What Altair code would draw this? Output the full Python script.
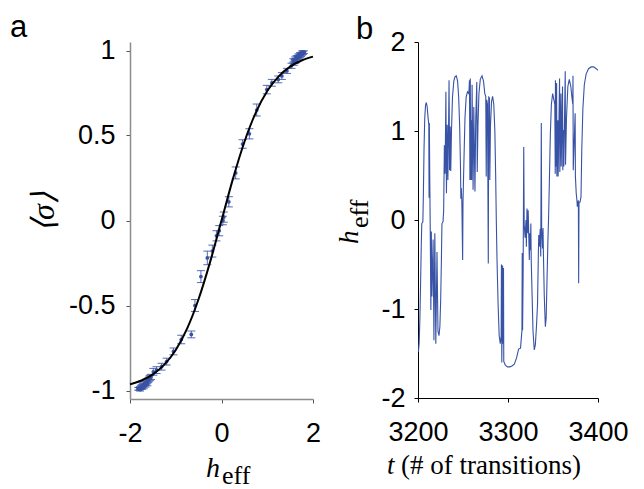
import altair as alt
import pandas as pd

# ---------------- panel a : <sigma> vs h_eff ----------------
pt_h = [0.31, 0.16, 0.05, 0.03, -0.05, -0.11, -0.20, -0.31, -0.45, -0.58, -0.66, -0.88,
        -1.05, -1.20, -1.31, -1.42, -1.49, 0.46, 0.61, 0.77, 0.99, 1.10, 1.24, 1.32, 1.43, 1.53,
        1.58, 1.60, 1.62, 1.64, 1.66, 1.68, 1.70, 1.72, 1.74, 1.76, 1.78, 1.80, 1.64, 1.68, 1.72, 1.76, 1.57, 1.61,
        -1.82, -1.80, -1.78, -1.76, -1.74, -1.72, -1.70, -1.68, -1.66, -1.64, -1.62, -1.60, -1.58, -1.56, -1.54,
        -1.78, -1.74, -1.70, -1.66, -1.62]
pt_s = [0.28, 0.11, 0.02, 0.00, -0.06, -0.09, -0.18, -0.22, -0.33, -0.50, -0.67, -0.70,
        -0.77, -0.83, -0.86, -0.88, -0.89, 0.45, 0.51, 0.65, 0.77, 0.81, 0.83, 0.85, 0.88, 0.91,
        0.925, 0.935, 0.94, 0.945, 0.955, 0.96, 0.965, 0.97, 0.975, 0.98, 0.985, 0.99, 0.96, 0.97, 0.98, 0.99, 0.94, 0.95,
        -0.99, -0.99, -0.985, -0.98, -0.975, -0.97, -0.965, -0.96, -0.955, -0.95, -0.945, -0.94, -0.93, -0.925, -0.92,
        -0.995, -0.985, -0.98, -0.97, -0.96]
pt_e = [0.035, 0.03, 0.03, 0.025, 0.03, 0.03, 0.035, 0.04, 0.035, 0.035, 0.02, 0.025,
        0.02, 0.02, 0.02, 0.02, 0.02, 0.025, 0.03, 0.035, 0.025, 0.02, 0.02, 0.02, 0.015, 0.015,
        0.012, 0.012, 0.012, 0.01, 0.01, 0.01, 0.01, 0.01, 0.01, 0.008, 0.008, 0.008, 0.01, 0.01, 0.008, 0.008, 0.012, 0.012,
        0.008, 0.008, 0.008, 0.01, 0.01, 0.01, 0.01, 0.012, 0.012, 0.012, 0.012, 0.012, 0.015, 0.015, 0.015,
        0.008, 0.008, 0.01, 0.01, 0.012]

curve_h = [-2.0, -1.75, -1.5, -1.25, -1.0, -0.75, -0.5, -0.25, 0.0, 0.25, 0.5, 0.75, 1.0, 1.25, 1.5, 1.75, 2.0]
curve_s = [-0.964, -0.941, -0.905, -0.848, -0.762, -0.635, -0.462, -0.245, 0.0, 0.245, 0.462, 0.635, 0.762, 0.848, 0.905, 0.941, 0.964]

# ---------------- panel b : h_eff time series ----------------
ts_t = [3200.5, 3201.3, 3202.0, 3202.8, 3203.6, 3204.2, 3205.4, 3206.0, 3206.7, 3207.5, 3208.4, 3209.3, 3210.2, 3211.2,
        3212.0, 3212.3, 3212.6, 3213.0, 3213.6, 3214.3, 3214.8, 3215.5, 3216.8, 3217.7, 3218.7, 3219.8, 3221.1, 3222.2,
        3223.3, 3224.3, 3225.2, 3226.0, 3226.6, 3227.8, 3228.5, 3229.3, 3230.1, 3231.0, 3231.6, 3232.5, 3233.2, 3234.0,
        3234.5, 3235.1, 3235.8, 3236.4, 3237.2, 3238.3, 3239.8, 3241.2, 3242.6, 3244.0, 3245.2, 3246.3, 3247.2, 3247.6,
        3248.1, 3248.7, 3249.6, 3250.0, 3251.0, 3252.2, 3253.5, 3255.0, 3256.5, 3257.2, 3257.7, 3258.1, 3258.6, 3259.1,
        3259.6, 3260.1, 3261.2, 3262.0, 3263.3, 3264.1, 3265.3, 3265.8, 3266.6, 3267.7, 3269.2, 3271.1, 3272.8, 3274.2,
        3275.3, 3275.8, 3276.4, 3277.2, 3278.1, 3278.6, 3279.4, 3279.8, 3280.5, 3281.7, 3282.9, 3284.2, 3285.4, 3286.3,
        3287.0, 3287.8, 3289.0, 3290.2, 3291.4, 3292.4, 3292.7, 3293.1, 3293.6, 3294.0, 3294.3, 3295.0, 3295.3, 3297.0,
        3299.5, 3302.0, 3304.4, 3307.0, 3309.5, 3311.8, 3313.9, 3315.5, 3315.8, 3316.2, 3316.8, 3317.5, 3318.0, 3319.0,
        3320.0, 3320.4, 3321.1, 3322.0, 3322.4, 3323.2, 3323.7, 3324.2, 3324.9, 3325.4, 3325.8, 3326.8, 3327.8, 3329.2,
        3330.4, 3331.6, 3332.8, 3333.8, 3334.2, 3334.8, 3335.8, 3336.4, 3337.0, 3337.4, 3338.3, 3338.9, 3339.4, 3340.3,
        3341.5, 3342.4, 3343.3, 3344.3, 3345.2, 3346.0, 3347.0, 3348.2, 3349.6, 3351.0, 3352.0, 3352.5, 3352.7, 3353.3,
        3354.0, 3354.3, 3355.4, 3355.7, 3357.3, 3357.6, 3358.8, 3359.1, 3360.6, 3360.9, 3361.7, 3362.0, 3363.6, 3363.9,
        3365.0, 3366.5, 3368.1, 3369.8, 3371.0, 3372.0, 3372.2, 3372.5, 3373.3, 3374.6, 3374.9, 3375.8, 3376.6, 3377.0,
        3378.2, 3378.5, 3378.9, 3380.0, 3381.1, 3382.0, 3383.2, 3384.8, 3386.8, 3389.5, 3392.5, 3395.2, 3398.0, 3400.0]
ts_h = [-1.48, -1.38, -1.15, -0.75, -0.30, -0.04, -0.02, 0.30, 0.80, 1.15, 1.29, 1.32, 1.27, 1.15,
        1.07, 0.25, 1.09, 0.55, -0.10, -1.01, -0.13, -0.86, -0.22, -1.35, -0.15, -1.39, -0.36, -1.25,
        -1.30, -1.20, -0.90, -0.45, -0.04, -0.02, 0.10, 0.84, 0.52, 1.44, 0.30, 1.07, 0.45, 1.07,
        1.57, 0.56, 1.05, 0.55, 1.00, 1.38, 1.56, 1.61, 1.62, 1.56, 1.38, 1.05, 0.60, 0.24,
        0.36, 0.22, -0.45, 0.20, 0.65, 1.15, 1.38, 1.44, 1.42, 1.57, 0.45, 1.59, 0.45, 1.12,
        0.45, 1.52, 0.34, 1.27, 0.32, 1.10, 1.55, 0.54, 1.05, 1.42, 1.58, 1.62, 1.56, 1.42,
        1.39, 0.49, 1.35, 1.30, -0.49, 1.38, 1.37, 0.45, 1.05, 1.33, 1.39, 1.30, 1.00, 0.50,
        0.00, -0.45, -0.95, -1.30, -1.39, -1.30, -0.50, -1.60, -1.10, -0.51, -1.39, -0.54, -1.59, -1.63,
        -1.65, -1.65, -1.64, -1.62, -1.55, -1.45, -1.44, -1.24, -0.37, -1.24, -0.60, 0.82, -0.05, -0.20,
        0.00, -0.30, 0.13, -0.15, 0.11, -0.22, -0.45, -0.15, -0.34, -0.04, -0.45, -0.85, -1.25, -1.46,
        -1.40, -1.20, -0.95, -0.34, -0.17, -0.30, -0.10, -0.41, 1.09, -0.10, -0.32, -0.09, -0.40, -0.85,
        -1.20, -1.10, -0.70, -0.25, 0.07, 0.45, 0.95, 1.30, 1.42, 1.35, 1.30, 0.52, 1.57, 0.60,
        1.54, 0.49, 1.12, 0.49, 1.59, 0.54, 1.42, 0.60, 1.50, 0.56, 1.01, 0.60, 1.67, 0.62,
        1.15, 1.50, 1.58, 1.50, 1.38, 1.30, 1.62, 0.56, 0.80, 1.20, 0.49, 0.30, 0.22, 0.15,
        0.22, -0.71, 0.20, 0.20, 0.26, 0.80, 1.25, 1.52, 1.64, 1.70, 1.72, 1.72, 1.70, 1.68]

BLUE = "#3852A6"
SANS = "Liberation Sans"
SERIF = "Liberation Serif"
LBL = 27

pts = pd.DataFrame({"h": pt_h, "s": pt_s, "e": pt_e})
pts["lo"] = pts["s"] - pts["e"]
pts["hi"] = pts["s"] + pts["e"]
curve = pd.DataFrame({"h": curve_h, "s": curve_s})
series = pd.DataFrame({"t": ts_t, "h": ts_h, "i": list(range(len(ts_t)))})


def txt(s, x, y, size, font, style="normal", angle=0, align="left", baseline="alphabetic"):
    return alt.Chart(pd.DataFrame({"s": [s]})).mark_text(
        font=font, fontSize=size, fontStyle=style, angle=angle, align=align,
        baseline=baseline, color="black").encode(text="s:N", x=alt.value(x), y=alt.value(y))


xs_a = alt.Scale(domain=[-2, 2], nice=False, zero=False)
ys_a = alt.Scale(domain=[-1.05, 1.05], nice=False, zero=False)
ax_a_x = alt.Axis(values=[-2, 0, 2], labelExpr="toString(datum.value)", title=None,
                  domainColor="#8c8c8c", domainWidth=1.5, tickColor="#555555", tickSize=4,
                  labelPadding=17, labelFlush=False)
ax_a_y = alt.Axis(values=[-1, -0.5, 0, 0.5, 1], labelExpr="toString(datum.value)", title=None,
                  domainColor="#8c8c8c", domainWidth=1.5, tickColor="#555555", tickSize=4,
                  labelPadding=11, labelFlush=False)

rules = alt.Chart(pts).mark_rule(color=BLUE, strokeWidth=1, opacity=0.85).encode(
    x=alt.X("h:Q", scale=xs_a, axis=ax_a_x), y=alt.Y("lo:Q", scale=ys_a, axis=ax_a_y), y2="hi:Q")
caps = alt.Chart(pts).transform_fold(["lo", "hi"], as_=["k", "v"]).mark_tick(
    color=BLUE, orient="horizontal", size=8, thickness=1, opacity=0.85).encode(
    x=alt.X("h:Q", scale=xs_a, axis=ax_a_x), y=alt.Y("v:Q", scale=ys_a, axis=ax_a_y))
dots = alt.Chart(pts).mark_circle(color=BLUE, size=14, opacity=1).encode(
    x=alt.X("h:Q", scale=xs_a, axis=ax_a_x), y=alt.Y("s:Q", scale=ys_a, axis=ax_a_y))
line_a = alt.Chart(curve).mark_line(color="black", strokeWidth=2, interpolate="monotone").encode(
    x=alt.X("h:Q", scale=xs_a, axis=ax_a_x), y=alt.Y("s:Q", scale=ys_a, axis=ax_a_y))

panel_a = alt.layer(
    rules, caps, dots, line_a,
    txt("a", -120, -5, 31, SANS),
    txt("⟨σ⟩", -86, 170, 32, SERIF, style="italic", angle=270, align="center", baseline="middle"),
    txt("h", 76, 435, 28, SERIF, style="italic"),
    txt("eff", 92, 442, 26, SERIF),
).properties(width=183, height=357)

xs_b = alt.Scale(domain=[3200, 3400], nice=False, zero=False)
ys_b = alt.Scale(domain=[-2, 2], nice=False, zero=False)
ax_b_x = alt.Axis(values=[3200, 3300, 3400], labelExpr="toString(datum.value)", title=None,
                  domainColor="black", tickColor="black", tickSize=4, labelPadding=17, labelFlush=False)
ax_b_y = alt.Axis(values=[-2, -1, 0, 1, 2], labelExpr="toString(datum.value)", title=None,
                  domainColor="black", tickColor="black", tickSize=4, labelPadding=9, labelFlush=False)

line_b = alt.Chart(series).mark_line(color=BLUE, strokeWidth=1.1).encode(
    x=alt.X("t:Q", scale=xs_b, axis=ax_b_x), y=alt.Y("h:Q", scale=ys_b, axis=ax_b_y),
    order="i:Q")

panel_b = alt.layer(
    line_b,
    txt("b", -62, -3, 31, SANS),
    txt("h", -60, 202, 27, SERIF, style="italic", angle=270),
    txt("eff", -50, 186, 26, SERIF, angle=270),
    txt("t", -31, 432, 27, SERIF, style="italic"),
    txt("(# of transitions)", -17, 432, 27, SERIF),
).properties(width=180, height=356)

chart = alt.hconcat(panel_a, panel_b, spacing=15).properties(
    padding={"left": 2, "top": 4, "right": 0, "bottom": 0}
).configure_view(stroke=None).configure_axis(
    labelFont=SANS, labelFontSize=LBL, labelColor="black", grid=False
)

chart.save("out.html", embed_options={"renderer": "svg", "actions": False})
